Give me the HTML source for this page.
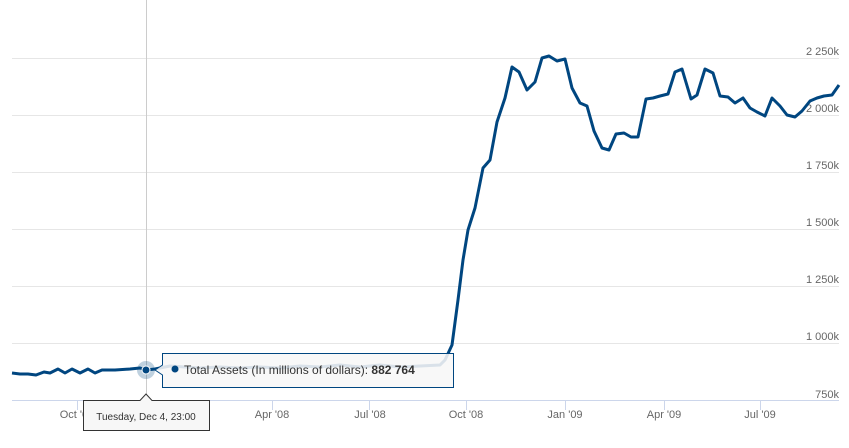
<!DOCTYPE html>
<html><head><style>
body{margin:0;background:#fff;}
text{font-family:"Liberation Sans",sans-serif;}
</style></head><body>
<svg width="849" height="443" viewBox="0 0 849 443">
<g stroke="#e6e6e6" stroke-width="1">
<line x1="12" y1="58.5" x2="839" y2="58.5"/>
<line x1="12" y1="115.5" x2="839" y2="115.5"/>
<line x1="12" y1="172.5" x2="839" y2="172.5"/>
<line x1="12" y1="229.5" x2="839" y2="229.5"/>
<line x1="12" y1="286.5" x2="839" y2="286.5"/>
<line x1="12" y1="343.5" x2="839" y2="343.5"/>
</g>
<line x1="12" y1="400.5" x2="839" y2="400.5" stroke="#ccd6eb"/>
<g stroke="#ccd6eb">
<line x1="77.5" y1="400" x2="77.5" y2="410"/><line x1="174.5" y1="400" x2="174.5" y2="410"/>
<line x1="272.5" y1="400" x2="272.5" y2="410"/><line x1="369.5" y1="400" x2="369.5" y2="410"/>
<line x1="466.5" y1="400" x2="466.5" y2="410"/><line x1="565.5" y1="400" x2="565.5" y2="410"/>
<line x1="664.5" y1="400" x2="664.5" y2="410"/><line x1="760.5" y1="400" x2="760.5" y2="410"/>
</g>
<g font-size="11" fill="#666" text-anchor="end">
<text x="839" y="55">2 250k</text><text x="839" y="112">2 000k</text>
<text x="839" y="169">1 750k</text><text x="839" y="226">1 500k</text>
<text x="839" y="283">1 250k</text><text x="839" y="340">1 000k</text>
<text x="839" y="398">750k</text>
</g>
<g font-size="11" fill="#666" text-anchor="middle">
<text x="77" y="418">Oct '07</text><text x="174" y="418">Jan '08</text>
<text x="272" y="418">Apr '08</text><text x="370" y="418">Jul '08</text>
<text x="466" y="418">Oct '08</text><text x="565" y="418">Jan '09</text>
<text x="664" y="418">Apr '09</text><text x="760" y="418">Jul '09</text>
</g>
<line x1="146.5" y1="0" x2="146.5" y2="400" stroke="#ccc"/>
<polyline fill="none" stroke="#004680" stroke-width="3" stroke-linejoin="round" points="12,373 20,374 28,374 36,375 44,372 50,373 58,369 65,373 72,369 80,373 88,369 95,373 102,370 115,370 130,369 140,368 146,370 155,369 170,366 185,367 200,368 220,367 240,368 260,367 280,368 300,366 320,367 340,365 360,367 380,365 400,367 420,366 440,365 445,360 452,345 458,300 463,260 468,230 475,208 483,168 490,160 497,122 505,98 512,67 519,72 527,90 535,82 542,58 549,56 557,61 565,59 572,88 580,103 587,106 594,131 602,148 609,150 616,134 624,133 631,137 638,137 646,99 653,98 660,96 668,94 675,72 682,69 691,99 697,95 705,69 713,73 720,96 728,97 735,103 743,98 750,108 757,112 765,116 772,98 780,106 787,115 795,117 802,111 810,101 817,98 824,96 832,95 839,85"/>
<circle cx="146" cy="370" r="9" fill="#004680" fill-opacity="0.25"/>
<circle cx="146" cy="370" r="4" fill="#004680" stroke="#fff" stroke-width="1"/>
<path d="M162.5,353.5 H453.5 V387.5 H162.5 V375 L155,370 L162.5,365 Z" fill="#f7f7f7" fill-opacity="0.88" stroke="#004680"/>
<circle cx="175" cy="369" r="3.5" fill="#004680"/>
<text x="184" y="374" font-size="12" fill="#333">Total Assets (In millions of dollars): <tspan font-weight="bold">882 764</tspan></text>
<path d="M83.5,400.5 H140 L146,394 L152,400.5 H209.5 V430.5 H83.5 Z" fill="#f7f7f7" stroke="#333" stroke-width="1"/>
<text x="146" y="420" font-size="10" fill="#333" text-anchor="middle">Tuesday, Dec 4, 23:00</text>
</svg>
</body></html>
